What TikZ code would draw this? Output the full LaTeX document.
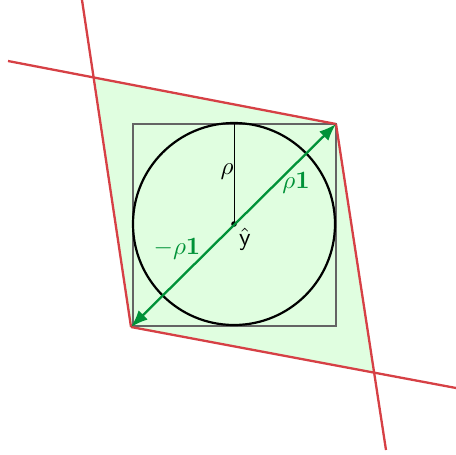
\documentclass[tikz,border=0pt]{standalone}
\usepackage{amsmath,amssymb}
\usetikzlibrary{arrows.meta}
\definecolor{cred}{RGB}{214,64,69}
\definecolor{cfill}{RGB}{224,254,224}
\definecolor{cgreen}{RGB}{0,146,56}
\definecolor{cgray}{RGB}{100,100,100}
\begin{document}
\begin{tikzpicture}[x=1pt,y=-1pt,
  redline/.style={draw=cred,line width=2.3pt},
  lbl/.style={inner sep=0pt,scale=2.5,transform shape},
  glbl/.style={lbl,text=cgreen}]
\useasboundingbox (0,0) rectangle (456,455);
% vertices
\coordinate (T) at (336,124);
\coordinate (L) at (131,327);
\coordinate (TL) at (95,78);
\coordinate (BR) at (374,373);
\coordinate (c) at (234,224);
% line ends
\coordinate (a1) at (82,0);
\coordinate (a2) at (131,327);
\coordinate (b1) at (8,61);
\coordinate (b2) at (336,124);
\coordinate (c1) at (336,124);
\coordinate (c2) at (386,450);
\coordinate (d1) at (131,327);
\coordinate (d2) at (456,388);
\fill[cfill] (TL) -- (T) -- (BR) -- (L) -- cycle;
\draw[cgray,line width=2.3pt] (133,124) rectangle (336,326);
\draw[black,line width=2.2pt] (c) circle (101);
\draw[black,line width=0.8pt] (c) -- (234,124);
\fill (c) circle (2.8);
\draw[redline] (a1) -- (a2);
\draw[redline] (b1) -- (b2);
\draw[redline] (c1) -- (c2);
\draw[redline] (d1) -- (d2);
\draw[cgreen,line width=2.3pt,{Latex[length=17pt,width=13pt]}-{Latex[length=17pt,width=13pt]}] (L) -- (T);
\node[lbl] (rho) at (227,172) {$\rho$};
\node[glbl] (r1) at (296,183) {$\rho\mathbf{1}$};
\node[glbl] (mr1) at (177,249) {$-\rho\mathbf{1}$};
\node[lbl] (y) at (245,239) {$\hat{\mathsf{y}}$};
\end{tikzpicture}
\end{document}
